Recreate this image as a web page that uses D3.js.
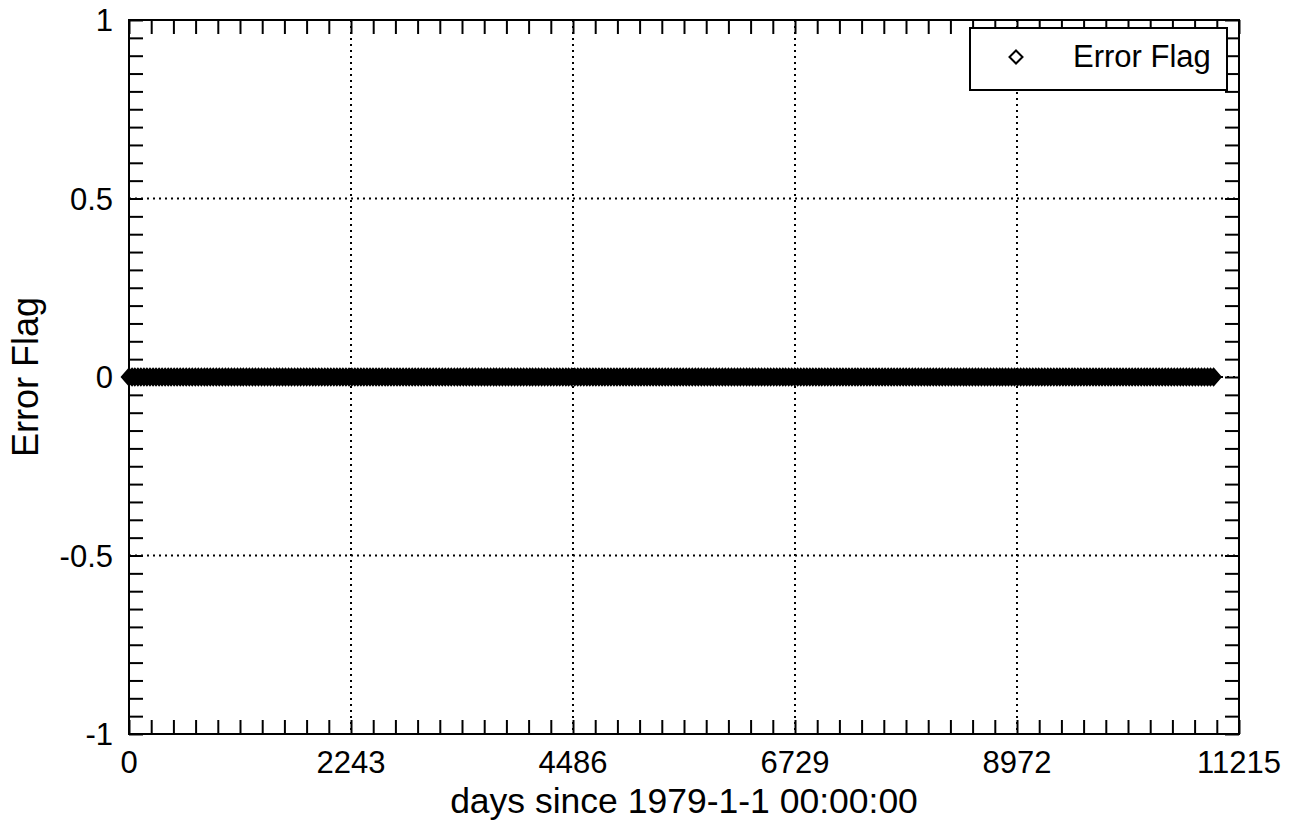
<!DOCTYPE html>
<html>
<head>
<meta charset="utf-8">
<script src="https://cdn.jsdelivr.net/npm/d3@7"></script>
<style>
  html, body { margin: 0; padding: 0; background: #fff; }
  svg { display: block; }
  text { font-family: "Liberation Sans", Arial, Helvetica, sans-serif; fill: #000; }
</style>
</head>
<body>
<svg id="chart" width="1296" height="822"></svg>
<script>
// ---- data ----
const seriesName = "Error Flag";
const xTitle = "days since 1979-1-1 00:00:00";
const yTitle = "Error Flag";
const xDomain = [0, 11215];
const yDomain = [-1, 1];
const xMajorTicks = [0, 2243, 4486, 6729, 8972, 11215];
const xTickLabels = ["0", "2243", "4486", "6729", "8972", "11215"];
const yMajorTicks = [-1, -0.5, 0, 0.5, 1];
const yTickLabels = ["-1", "-0.5", "0", "0.5", "1"];
const xGridTicks = [2243, 4486, 6729, 8972];
const yGridTicks = [-0.5, 0, 0.5];
// monthly samples, 1979-01 .. 2009-01 (time of each sample = first of month)
const sampleStart = "1979-01-01";
const sampleEnd = "2009-01-01";
const errorFlag = [
  0,0,0,0,0,0,0,0,0,0,0,0, 0,0,0,0,0,0,0,0,0,0,0,0, 0,0,0,0,0,0,0,0,0,0,0,0,
  0,0,0,0,0,0,0,0,0,0,0,0, 0,0,0,0,0,0,0,0,0,0,0,0, 0,0,0,0,0,0,0,0,0,0,0,0,
  0,0,0,0,0,0,0,0,0,0,0,0, 0,0,0,0,0,0,0,0,0,0,0,0, 0,0,0,0,0,0,0,0,0,0,0,0,
  0,0,0,0,0,0,0,0,0,0,0,0, 0,0,0,0,0,0,0,0,0,0,0,0, 0,0,0,0,0,0,0,0,0,0,0,0,
  0,0,0,0,0,0,0,0,0,0,0,0, 0,0,0,0,0,0,0,0,0,0,0,0, 0,0,0,0,0,0,0,0,0,0,0,0,
  0,0,0,0,0,0,0,0,0,0,0,0, 0,0,0,0,0,0,0,0,0,0,0,0, 0,0,0,0,0,0,0,0,0,0,0,0,
  0,0,0,0,0,0,0,0,0,0,0,0, 0,0,0,0,0,0,0,0,0,0,0,0, 0,0,0,0,0,0,0,0,0,0,0,0,
  0,0,0,0,0,0,0,0,0,0,0,0, 0,0,0,0,0,0,0,0,0,0,0,0, 0,0,0,0,0,0,0,0,0,0,0,0,
  0,0,0,0,0,0,0,0,0,0,0,0, 0,0,0,0,0,0,0,0,0,0,0,0, 0,0,0,0,0,0,0,0,0,0,0,0,
  0,0,0,0,0,0,0,0,0,0,0,0, 0,0,0,0,0,0,0,0,0,0,0,0, 0,0,0,0,0,0,0,0,0,0,0,0,
  0
];

// ---- layout ----
const margin = { left: 129, top: 20, right: 1296 - 1239, bottom: 822 - 734 };
const W = 1296, H = 822;
const iw = W - margin.left - margin.right;
const ih = H - margin.top - margin.bottom;

const svg = d3.select("#chart");
const g = svg.append("g").attr("transform", `translate(${margin.left},${margin.top})`);

const x = d3.scaleLinear().domain(xDomain).range([0, iw]);
const y = d3.scaleLinear().domain(yDomain).range([ih, 0]);

// x positions from sample dates
const t0 = new Date(sampleStart + "T00:00:00Z");
const t1 = new Date(sampleEnd + "T00:00:00Z");
const dates = d3.utcMonth.range(t0, d3.utcDay.offset(t1, 1));
const points = dates.map((d, i) => ({ day: (d - t0) / 864e5, v: errorFlag[i] }))
  .filter(p => p.v !== undefined);

// ---- grid ----
const gridStyle = sel => sel.attr("stroke", "#000").attr("stroke-width", 2)
  .attr("stroke-dasharray", "2,4");
g.append("g").selectAll("line").data(xGridTicks).join("line")
  .attr("x1", d => x(d)).attr("x2", d => x(d)).attr("y1", 0).attr("y2", ih)
  .call(gridStyle);
g.append("g").selectAll("line").data(yGridTicks).join("line")
  .attr("y1", d => y(d)).attr("y2", d => y(d)).attr("x1", 0).attr("x2", iw)
  .call(gridStyle);

// ---- ticks (inward, all four sides) ----
const tickLen = 14;
const xMinor = d3.range(0, 51).map(i => xDomain[0] + (xDomain[1] - xDomain[0]) * i / 50);
const yMinor = d3.range(0, 41).map(i => yDomain[0] + (yDomain[1] - yDomain[0]) * i / 40);

const axB = d3.axisBottom(x).tickValues(xMinor).tickSize(-tickLen).tickFormat("");
const axT = d3.axisTop(x).tickValues(xMinor).tickSize(-tickLen).tickFormat("");
const axL = d3.axisLeft(y).tickValues(yMinor).tickSize(-tickLen).tickFormat("");
const axR = d3.axisRight(y).tickValues(yMinor).tickSize(-tickLen).tickFormat("");

function styleAxis(sel) {
  sel.select(".domain").remove();
  sel.selectAll(".tick line").attr("stroke", "#000").attr("stroke-width", 2);
}
g.append("g").attr("transform", `translate(0,${ih})`).call(axB).call(styleAxis);
g.append("g").call(axT).call(styleAxis);
g.append("g").call(axL).call(styleAxis);
g.append("g").attr("transform", `translate(${iw},0)`).call(axR).call(styleAxis);

// frame
g.append("rect").attr("x", 0).attr("y", 0).attr("width", iw).attr("height", ih)
  .attr("fill", "none").attr("stroke", "#000").attr("stroke-width", 2);

// ---- tick labels ----
g.append("g").selectAll("text").data(xMajorTicks).join("text")
  .attr("x", d => x(d)).attr("y", ih + 39)
  .attr("text-anchor", "middle").attr("font-size", 31)
  .text((d, i) => xTickLabels[i]);
g.append("g").selectAll("text").data(yMajorTicks).join("text")
  .attr("x", -16).attr("y", d => y(d) + 11)
  .attr("text-anchor", "end").attr("font-size", 31)
  .text((d, i) => yTickLabels[i]);

// ---- titles ----
svg.append("text").attr("x", margin.left + iw / 2).attr("y", 813)
  .attr("text-anchor", "middle").attr("font-size", 35.5).text(xTitle);
svg.append("text").attr("transform", `translate(38,${margin.top + ih / 2}) rotate(-90)`)
  .attr("text-anchor", "middle").attr("font-size", 36).text(yTitle);

// ---- data markers ----
const diamond = (w, h) => `M0,${-h}L${w},0L0,${h}L${-w},0Z`;
g.append("g").selectAll("path").data(points).join("path")
  .attr("transform", d => `translate(${x(d.day)},${y(d.v)})`)
  .attr("d", diamond(6.5, 7.5))
  .attr("fill", "none").attr("stroke", "#000").attr("stroke-width", 3);

// ---- legend ----
const lg = svg.append("g");
lg.append("rect").attr("x", 970).attr("y", 28).attr("width", 257).attr("height", 62)
  .attr("fill", "#fff").attr("stroke", "#000").attr("stroke-width", 2);
lg.append("path").attr("transform", "translate(1016,57)").attr("d", diamond(6.5, 6.5))
  .attr("fill", "#fff").attr("stroke", "#000").attr("stroke-width", 2);
lg.append("text").attr("x", 1073).attr("y", 67).attr("font-size", 31).text(seriesName);
</script>
</body>
</html>
